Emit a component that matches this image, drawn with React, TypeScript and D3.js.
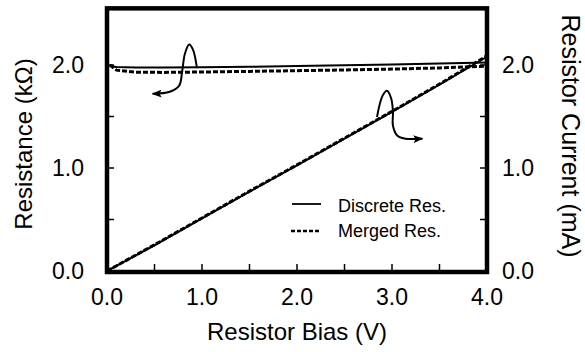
import React from "react";
import * as d3 from "d3";

// resistance vs bias (kOhm)
const resBias = [0.03, 0.1, 0.3, 0.6, 1.0, 1.5, 2.0, 2.5, 3.0, 3.5, 4.0];
const discreteRes = [1.99, 1.98, 1.975, 1.975, 1.978, 1.983, 1.99, 1.997, 2.005, 2.015, 2.025];
const mergedRes = [2.0, 1.95, 1.93, 1.928, 1.932, 1.938, 1.945, 1.952, 1.96, 1.972, 1.988];

// current vs bias (mA)
const curBias = [0, 0.5, 1.0, 1.5, 2.0, 2.5, 3.0, 3.5, 4.0];
const discreteCur = [0, 0.25, 0.51, 0.77, 1.025, 1.285, 1.545, 1.81, 2.08];
const mergedCur = [0, 0.255, 0.515, 0.775, 1.03, 1.29, 1.55, 1.815, 2.09];

const xTicks = ["0.0", "1.0", "2.0", "3.0", "4.0"];
const yTicks = ["0.0", "1.0", "2.0"];
const minorX = [0.5, 1.0, 1.5, 2.0, 2.5, 3.0, 3.5];
const minorY = [0.5, 1.0, 1.5, 2.0];

// curly arrows, in data units
const arrowRes = [[0.947, 1.97], [0.905, 2.15], [0.865, 2.2], [0.82, 2.11], [0.79, 1.93], [0.76, 1.8], [0.66, 1.74], [0.48, 1.72]];
const arrowCur = [[2.842, 1.495], [2.9, 1.7], [2.947, 1.75], [2.99, 1.68], [3.01, 1.55], [3.01, 1.41], [3.06, 1.31], [3.14, 1.285], [3.32, 1.285]];

const font = "'Liberation Sans', Arial, Helvetica, sans-serif";

export default function App() {
  const x = d3.scaleLinear().domain([0, 4]).range([107, 487]);
  const y = d3.scaleLinear().domain([0, 2]).range([271, 65]);
  const yR = d3.scaleLinear().domain([0, 2]).range([271, 65]);
  const top = y(2.55);

  const resLine = d3.line<number>().x((d, i) => x(resBias[i])).y(d => y(d));
  const curLine = d3.line<number>().x((d, i) => x(curBias[i])).y(d => yR(d));
  const curly = d3.line<number[]>().x(d => x(d[0])).y(d => y(d[1])).curve(d3.curveCatmullRom);

  return (
    <svg width={585} height={352} style={{position: "absolute", left: 0, top: 0}} fontFamily={font}>
      <defs>
        <marker id="head" viewBox="0 0 10 8" refX="9" refY="4" markerWidth="10" markerHeight="8"
          markerUnits="userSpaceOnUse" orient="auto">
          <path d="M0,0 L10,4 L0,8 L2,4 z" fill="#000" />
        </marker>
      </defs>

      {/* data */}
      <path d={resLine(discreteRes) || ""} fill="none" stroke="#000" strokeWidth={2} />
      <path d={resLine(mergedRes) || ""} fill="none" stroke="#000" strokeWidth={3} strokeDasharray="5,2" />
      <path d={curLine(discreteCur) || ""} fill="none" stroke="#000" strokeWidth={2} />
      <path d={curLine(mergedCur) || ""} fill="none" stroke="#000" strokeWidth={3} strokeDasharray="5,2" />

      {/* curly arrows */}
      <path d={curly(arrowRes) || ""} fill="none" stroke="#000" strokeWidth={2} markerEnd="url(#head)" />
      <path d={curly(arrowCur) || ""} fill="none" stroke="#000" strokeWidth={2} markerEnd="url(#head)" />

      {/* frame */}
      <rect x={x(0)} y={top} width={x(4) - x(0)} height={y(0) + 1 - top} fill="none" stroke="#000" strokeWidth={4.5} />

      {/* inward ticks */}
      {minorX.map(v => (
        <line key={"bx" + v} x1={x(v)} x2={x(v)} y1={y(0)} y2={y(0) - 7} stroke="#000" strokeWidth={1.5} />
      ))}
      {minorY.map(v => (
        <line key={"ly" + v} x1={x(0)} x2={x(0) + 7} y1={y(v)} y2={y(v)} stroke="#000" strokeWidth={1.5} />
      ))}
      {minorY.map(v => (
        <line key={"ry" + v} x1={x(4)} x2={x(4) - 7} y1={yR(v)} y2={yR(v)} stroke="#000" strokeWidth={1.5} />
      ))}

      {/* tick labels */}
      {xTicks.map(t => (
        <text key={"xt" + t} x={x(+t)} y={305} textAnchor="middle" fontSize={23}>{t}</text>
      ))}
      {yTicks.map(t => (
        <text key={"yt" + t} x={84} y={y(+t)} dy="0.36em" textAnchor="end" fontSize={23}>{t}</text>
      ))}
      {yTicks.map(t => (
        <text key={"yr" + t} x={502} y={yR(+t)} dy="0.36em" textAnchor="start" fontSize={23}>{t}</text>
      ))}

      {/* axis titles */}
      <text x={297} y={340} textAnchor="middle" fontSize={24}>Resistor Bias (V)</text>
      <text transform={`translate(32,${144}) rotate(-90)`} textAnchor="middle" fontSize={24}>Resistance (kΩ)</text>
      <text transform={`translate(562,${136}) rotate(90)`} textAnchor="middle" fontSize={25}>Resistor Current (mA)</text>

      {/* legend */}
      <line x1={292} x2={321} y1={204} y2={204} stroke="#000" strokeWidth={1.8} />
      <text x={338} y={212} fontSize={18}>Discrete Res.</text>
      <line x1={291} x2={321} y1={231} y2={231} stroke="#000" strokeWidth={2.5} strokeDasharray="4,2" />
      <text x={338} y={237} fontSize={18}>Merged Res.</text>
    </svg>
  );
}
